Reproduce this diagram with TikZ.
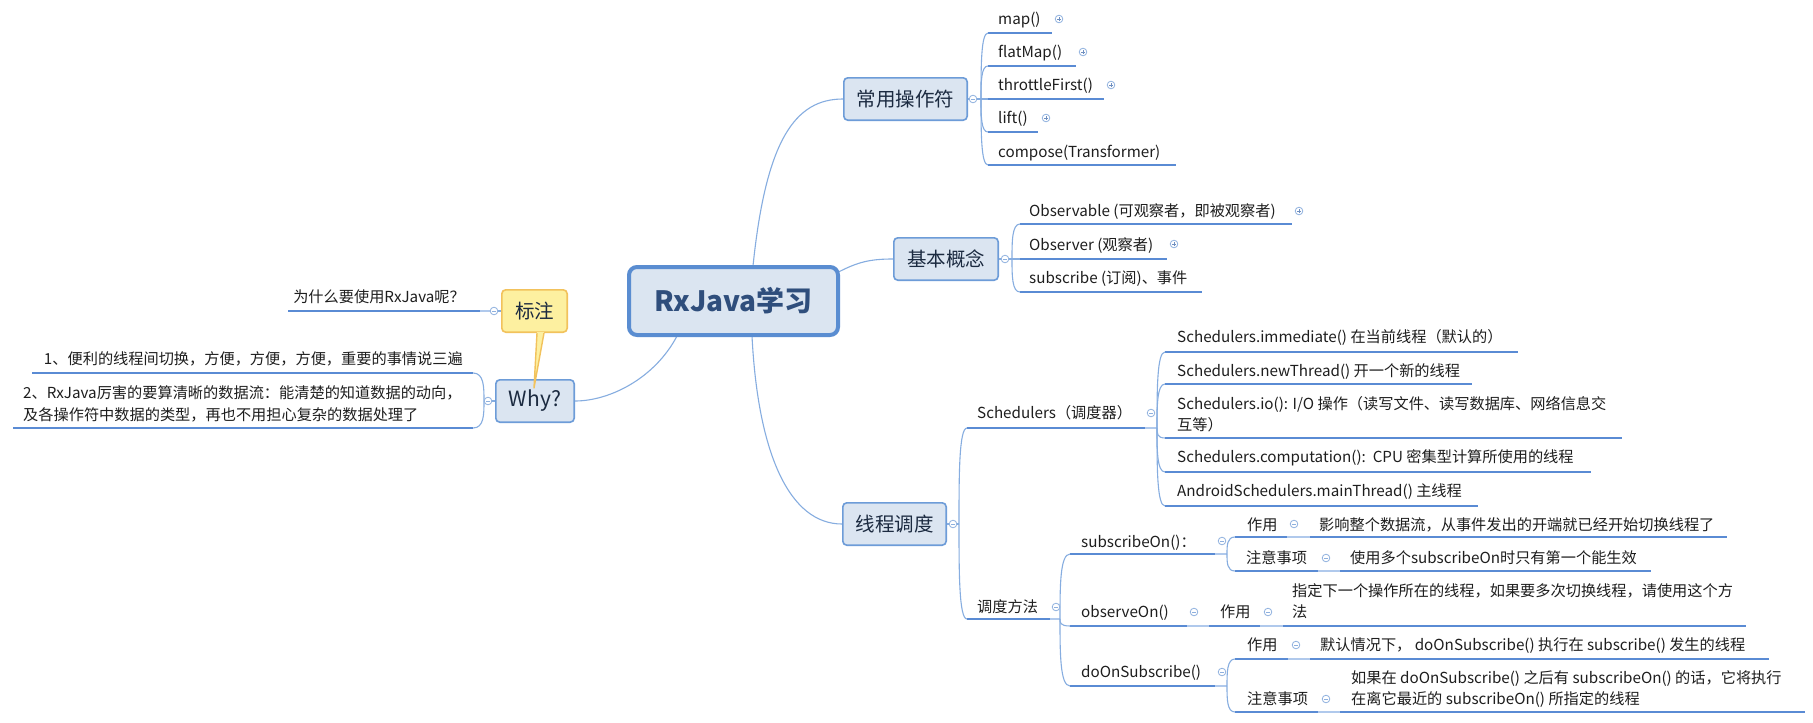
\documentclass[tikz,border=0pt]{standalone}
\usepackage{fontspec}
\setmainfont{Noto Sans CJK SC}
\usetikzlibrary{calc}
\definecolor{connc}{HTML}{86ADE0}
\definecolor{ulc}{HTML}{5A8BD4}
\definecolor{litec}{HTML}{B0C9EC}
\definecolor{boxfill}{HTML}{DBE5F1}
\definecolor{boxdraw}{HTML}{6D9CD8}
\definecolor{rootdraw}{HTML}{5A8DD1}
\definecolor{roottxt}{HTML}{2F4E7C}
\definecolor{boxtxt}{HTML}{1B2A40}
\definecolor{txtc}{HTML}{1E1E1E}
\definecolor{notefill}{HTML}{FDF0A0}
\definecolor{notedraw}{HTML}{F2C25C}
\definecolor{iconc}{HTML}{8EB0DE}
\definecolor{iconp}{HTML}{6F8FC0}
\newcommand\mmtopic[7]{%
  \node[txt] (#1) at (#2,#3) {#7};
  \coordinate (L#1) at (#4,#6);
  \coordinate (R#1) at (#5,#6);
  \draw[ul] (L#1) -- (R#1);
}
\begin{document}
\begin{tikzpicture}[x=1pt,y=-1pt,
  txt/.style={font=\fontsize{15.2}{21}\selectfont, text=txtc, inner sep=0pt, text height=13.4pt, text depth=1.8pt, anchor=west},
  ul/.style={draw=ulc, line width=2.2pt},
  lite/.style={draw=litec, line width=2.2pt},
  conn/.style={draw=connc, line width=1.1pt},
  mainbox/.style={draw=boxdraw, fill=boxfill, line width=1.6pt, rounded corners=4pt, font=\fontsize{19.5}{22}\selectfont, text=boxtxt, inner sep=0pt, minimum height=42.4pt},
  rootbox/.style={draw=rootdraw, fill=boxfill, line width=4pt, rounded corners=8pt, font=\fontsize{28}{32}\selectfont\bfseries, text=roottxt, inner sep=0pt, minimum width=209pt, minimum height=68pt},
  notebox/.style={draw=notedraw, fill=notefill, line width=1.6pt, rounded corners=4pt, font=\fontsize{19.5}{22}\selectfont, text=boxtxt, inner sep=0pt, minimum height=42.4pt},
  spinecurve/.style={to path={.. controls ($(\tikztostart)!0.5!(\tikztostart|-\tikztotarget)$) and (\tikztostart|-\tikztotarget) .. (\tikztotarget)}},
  collapseicon/.pic={\draw[draw=iconc, fill=white, line width=0.8pt] (0pt,0pt) circle[radius=3.8pt]; \draw[iconc, line width=0.9pt] (-2pt,0pt) -- (2pt,0pt);},
  expandicon/.pic={\draw[draw=iconc, fill=white, line width=0.8pt] (0pt,0pt) circle[radius=3.8pt]; \draw[iconp, line width=0.9pt] (-2pt,0pt) -- (2pt,0pt) (0pt,-2pt) -- (0pt,2pt);}
]
\useasboundingbox (0,0) rectangle (1813,723);
\fill[white] (0,0) rectangle (1813,723);

% main boxes
\node[mainbox, minimum width=123.4pt] (ops) at (905.5,99) {常用操作符};
\node[mainbox, minimum width=104.4pt] (basic) at (946,259) {基本概念};
\node[mainbox, minimum width=103.4pt] (thread) at (894.5,524) {线程调度};
\node[mainbox, minimum width=78.4pt, font=\fontsize{21}{24}\selectfont] (why) at (535,401) {Why?};

% root connectors
\coordinate (r1) at (753,266);
\coordinate (r2) at (838.5,272);
\coordinate (r3) at (752,336);
\coordinate (r4) at (677,336);
\draw[conn] (r1) .. controls (766,140) and (795,99) .. (ops.west);
\draw[conn] (r2) .. controls (858,262) and (870,259) .. (basic.west);
\draw[conn] (r3) .. controls (758,455) and (790,524) .. (thread.west);
\draw[conn] (r4) .. controls (655,378) and (610,401) .. (why.east);
\node[rootbox] (root) at (733.5,301) {RxJava学习};

% callout
\node[notebox, minimum width=65.4pt] (note) at (534.5,311) {标注};
\coordinate (notetip) at (534,388);
\fill[notefill] ($(note.south)+(2.5,-0.8)$) -- (notetip) -- ($(note.south)+(9.5,-0.8)$) -- cycle;
\draw[notedraw, line width=1.4pt, line join=round] ($(note.south)+(2.5,0)$) -- (notetip) -- ($(note.south)+(9.5,0)$);

% junctions
\coordinate (opsJ) at (981,99);
\coordinate (basicJ) at (1012,259);
\coordinate (threadJ) at (959,524);
\coordinate (whyJ) at (484,401);
\coordinate (qJ) at (490,311);
\coordinate (schedJ) at (1157,428);
\coordinate (methodJ) at (1060,619);
\coordinate (subonJ) at (1227,554);
\coordinate (doonJ) at (1227,686);

% operators
\mmtopic{map}{998}{19}{988}{1052}{33}{map()}
\mmtopic{flatmap}{998}{52}{988}{1076}{66}{flatMap()}
\mmtopic{throttle}{998}{85}{988}{1104}{99}{throttleFirst()}
\mmtopic{lift}{998}{118}{988}{1038}{132}{lift()}
\mmtopic{compose}{998}{152}{988}{1176}{165}{compose(Transformer)}

% basic concepts
\mmtopic{observable}{1029}{211}{1020}{1292}{224}{Observable (可观察者，即被观察者)}
\mmtopic{observer}{1029}{245}{1020}{1167}{259}{Observer (观察者)}
\mmtopic{subscribe}{1029}{278}{1020}{1202}{292}{subscribe (订阅)、事件}

% thread scheduling
\mmtopic{sched}{977}{413}{967}{1145}{428}{Schedulers（调度器）}
\mmtopic{method}{977}{607}{967}{1050}{619}{调度方法}

\mmtopic{imm}{1177}{337}{1165}{1518}{352}{Schedulers.immediate() 在当前线程（默认的）}
\mmtopic{newt}{1177}{371}{1165}{1472}{384}{Schedulers.newThread() 开一个新的线程}
\mmtopic{io}{1177}{404}{1165}{1622}{438}{Schedulers.io(): I/O 操作（读写文件、读写数据库、网络信息交}
\node[txt] (io2) at (1177,425) {互等）};
\mmtopic{comp}{1177}{457}{1165}{1591}{472}{Schedulers.computation():\ \ CPU 密集型计算所使用的线程}
\mmtopic{main}{1177}{491}{1165}{1478}{506}{AndroidSchedulers.mainThread() 主线程}

\mmtopic{subon}{1081}{542}{1070}{1215}{554}{subscribeOn()：}
\mmtopic{obson}{1081}{612}{1070}{1187}{626}{observeOn()}
\mmtopic{doon}{1081}{672}{1070}{1215}{686}{doOnSubscribe()}

\mmtopic{szy}{1247}{525}{1235}{1287}{537}{作用}
\mmtopic{szyt}{1319}{525}{1310}{1727}{537}{影响整个数据流，从事件发出的开端就已经开始切换线程了}
\mmtopic{szx}{1246}{558}{1235}{1318}{571}{注意事项}
\mmtopic{szxt}{1350}{558}{1340}{1651}{571}{使用多个subscribeOn时只有第一个能生效}
\mmtopic{ozy}{1220}{612}{1209}{1260}{626}{作用}
\mmtopic{ozyt}{1292}{591}{1283}{1746}{626}{指定下一个操作所在的线程，如果要多次切换线程，请使用这个方}
\node[txt] (ozyt2) at (1292,612) {法};
\mmtopic{dzy}{1247}{645}{1235}{1288}{659}{作用}
\mmtopic{dzyt}{1320}{645}{1310}{1769}{659}{默认情况下， doOnSubscribe() 执行在 subscribe() 发生的线程}
\mmtopic{dzx}{1247}{699}{1235}{1318}{712}{注意事项}
\mmtopic{dzxt}{1351}{678}{1340}{1805}{712}{如果在 doOnSubscribe() 之后有 subscribeOn() 的话，它将执行}
\node[txt] (dzxt2) at (1351,699) {在离它最近的 subscribeOn() 所指定的线程};

% left side
\node[txt, anchor=east] (q) at (465,297) {为什么要使用RxJava呢？};
\coordinate (Lq) at (288,311); \coordinate (Rq) at (480,311);
\draw[ul] (Lq) -- (Rq);
\node[txt, anchor=east] (w1) at (463,359) {1、便利的线程间切换，方便，方便，方便，重要的事情说三遍};
\coordinate (Lw1) at (32,373); \coordinate (Rw1) at (473,373);
\draw[ul] (Lw1) -- (Rw1);
\node[txt] (w2) at (23,393) {2、RxJava厉害的要算清晰的数据流：能清楚的知道数据的动向，};
\node[txt] (w2b) at (23,415) {及各操作符中数据的类型，再也不用担心复杂的数据处理了};
\coordinate (Lw2) at (13,428); \coordinate (Rw2) at (473,428);
\draw[ul] (Lw2) -- (Rw2);

% connectors
\draw[conn] (ops.east) -- (opsJ);
\foreach \c in {map,flatmap,throttle,lift,compose} {\draw[conn] (opsJ) to[spinecurve] (L\c);}
\draw[conn] (basic.east) -- (basicJ);
\foreach \c in {observable,observer,subscribe} {\draw[conn] (basicJ) to[spinecurve] (L\c);}
\draw[conn] (thread.east) -- (threadJ);
\draw[conn] (threadJ) to[spinecurve] (Lsched);
\draw[conn] (threadJ) to[spinecurve] (Lmethod);
\draw[lite] (Rsched) -- (schedJ);
\foreach \c in {imm,newt,io,comp,main} {\draw[conn] (schedJ) to[spinecurve] (L\c);}
\draw[lite] (Rmethod) -- (methodJ);
\foreach \c in {subon,obson,doon} {\draw[conn] (methodJ) to[spinecurve] (L\c);}
\draw[lite] (Rsubon) -- (subonJ);
\draw[conn] (subonJ) to[spinecurve] (Lszy);
\draw[conn] (subonJ) to[spinecurve] (Lszx);
\draw[lite] (Rszy) -- (Lszyt);
\draw[lite] (Rszx) -- (Lszxt);
\draw[lite] (Robson) -- (Lozy);
\draw[lite] (Rozy) -- (Lozyt);
\draw[lite] (Rdoon) -- (doonJ);
\draw[conn] (doonJ) to[spinecurve] (Ldzy);
\draw[conn] (doonJ) to[spinecurve] (Ldzx);
\draw[lite] (Rdzy) -- (Ldzyt);
\draw[lite] (Rdzx) -- (Ldzxt);
\draw[conn] (why.west) -- (whyJ);
\draw[conn] (whyJ) to[spinecurve] (Rw1);
\draw[conn] (whyJ) to[spinecurve] (Rw2);
\draw[lite] (Rq) -- (qJ);
\draw[conn] (qJ) -- (note.west);

% icons
\foreach \p in {(973,99),(1005,259),(953,524),(488,401),(494,311),(1151,413),(1056,607),(1222,541),(1194,612),(1222,672),(1294,524),(1326,558),(1268,612),(1296,645),(1326,699)} {\pic at \p {collapseicon};}
\foreach \p in {(1059,19),(1083,52),(1111,85),(1046,118),(1299,211),(1174,244)} {\pic at \p {expandicon};}
\end{tikzpicture}
\end{document}
